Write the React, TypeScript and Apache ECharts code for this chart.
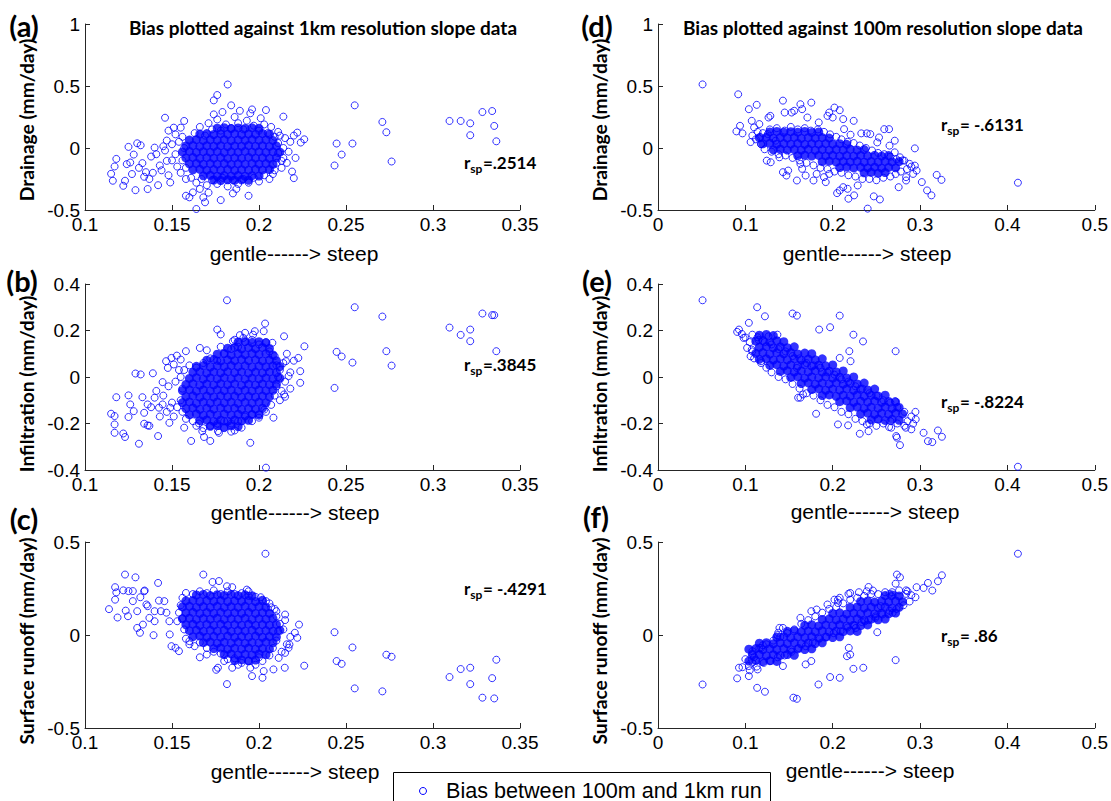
import React, { useEffect, useRef } from "react";
import * as echarts from "echarts";

// ---------- tick values ----------
const X_TICKS_1KM = [0.1, 0.15, 0.2, 0.25, 0.3, 0.35];
const X_TICKS_100M = [0, 0.1, 0.2, 0.3, 0.4, 0.5];
const Y_TICKS_DRAIN = [-0.5, 0, 0.5, 1];
const Y_TICKS_INFIL = [-0.4, -0.2, 0, 0.2, 0.4];
const Y_TICKS_RUNOFF = [-0.5, 0, 0.5];

// ---------- texts ----------
const PANEL_LETTERS = ["(a)", "(b)", "(c)", "(d)", "(e)", "(f)"];
const Y_LABELS = ["Drainage (mm/day)", "Infiltration (mm/day)", "Surface runoff (mm/day)"];
const X_LABEL = "gentle------> steep";
const TITLES = [
  "Bias plotted against 1km resolution slope data",
  "Bias plotted against 100m resolution slope data",
];
const RSP_VALUES = ["=.2514", "=.3845", "= -.4291", "= -.6131", "= -.8224", "= .86"];
const LEGEND_TEXT = "Bias between 100m and 1km run";

// ---------- data: (a) drainage vs 1km slope ----------
// densely overlapping core of the cloud
const A_DENSE = [
  [.176,.16],[.18,.164],[.184,.157],[.188,.162],[.192,.158],[.196,.163],[.2,.159],
  [.166,.112],[.17,.116],[.174,.109],[.178,.114],[.182,.11],[.186,.115],[.19,.108],[.194,.113],[.198,.11],[.202,.116],[.206,.111],
  [.16,.064],[.164,.068],[.168,.061],[.172,.066],[.176,.062],[.18,.067],[.184,.06],[.188,.065],[.192,.062],[.196,.068],[.2,.063],[.204,.066],[.208,.061],
  [.158,.016],[.162,.02],[.166,.013],[.17,.018],[.174,.014],[.178,.019],[.182,.012],[.186,.017],[.19,.014],[.194,.02],[.198,.015],[.202,.018],[.206,.013],[.21,.017],
  [.156,-.032],[.16,-.028],[.164,-.035],[.168,-.03],[.172,-.034],[.176,-.029],[.18,-.036],[.184,-.031],[.188,-.034],[.192,-.028],[.196,-.033],[.2,-.03],[.204,-.035],[.208,-.031],[.212,-.033],
  [.158,-.08],[.162,-.076],[.166,-.083],[.17,-.078],[.174,-.082],[.178,-.077],[.182,-.084],[.186,-.079],[.19,-.082],[.194,-.076],[.198,-.081],[.202,-.078],[.206,-.083],[.21,-.079],
  [.16,-.128],[.164,-.124],[.168,-.131],[.172,-.126],[.176,-.13],[.18,-.125],[.184,-.132],[.188,-.127],[.192,-.13],[.196,-.124],[.2,-.129],[.204,-.126],[.208,-.131],
  [.162,-.176],[.166,-.172],[.17,-.179],[.174,-.174],[.178,-.178],[.182,-.173],[.186,-.18],[.19,-.175],[.194,-.178],[.198,-.172],[.202,-.177],[.206,-.174],
  [.168,-.224],[.172,-.22],[.176,-.227],[.18,-.222],[.184,-.226],[.188,-.221],[.192,-.228],[.196,-.223],[.2,-.226],
  [.174,-.258],[.178,-.262],[.182,-.256],[.186,-.261],[.19,-.257],[.194,-.26]
];
const A_SPARSE = [
  [.115,-.208],[.116,-.264],[.117,-.149],[.118,-.088],[.122,-.305],[.123,-.264],[.125,.009],[.126,-.117],[.128,-.053],[.129,-.34],
  [.13,.038],[.132,.022],[.133,-.122],[.134,-.232],[.135,-.195],[.136,-.331],[.138,-.069],[.139,-.2],[.14,.003],[.142,-.3],
  [.143,-.141],[.145,.014],[.146,.244],[.147,-.104],[.148,.14],[.149,-.278],[.151,.164],[.152,.11],[.155,.164],[.157,.218],
  [.158,-.385],[.16,-.398],[.162,-.358],[.164,-.492],[.168,-.398],[.169,-.438],[.174,.271],[.174,.384],[.176,.427],[.178,-.42],
  [.182,.512],[.185,-.366],[.184,.344],[.194,-.385],[.196,.311],[.204,.306],[.214,.253],[.22,-.243],[.222,.124],[.224,.044],
  [.226,.07],[.213,-.104],[.124,-.13],[.127,-.21],[.131,-.16],[.137,-.25],[.141,-.05],[.144,-.18],[.146,-.02],[.148,-.22],
  [.15,-.1],[.15,.03],[.147,.06],
  [.152,-.05],[.153,-.15],[.154,.05],[.155,-.2],[.156,-.1],[.157,0],[.156,.09],[.158,-.25],[.158,-.16],
  [.163,.12],[.166,.17],[.169,.1],[.171,.2],[.173,.15],[.176,.23],[.178,.14],[.181,.19],[.184,.16],[.186,.25],
  [.188,.2],[.191,.15],[.193,.22],[.195,.28],[.197,.18],[.2,.14],[.201,.24],[.203,.19],[.205,.12],[.207,.17],
  [.209,.09],[.211,.13],[.179,.29],[.189,.3],
  [.161,-.24],[.164,-.28],[.167,-.25],[.17,-.3],[.173,-.26],[.176,-.29],[.179,-.24],[.182,-.31],[.185,-.26],[.188,-.29],
  [.191,-.25],[.194,-.28],[.197,-.24],[.2,-.27],[.203,-.22],[.206,-.25],[.171,-.36],[.187,-.33],[.166,-.33],
  [.209,-.18],[.21,-.12],[.211,-.04],[.211,.04],[.213,-.16],[.214,-.08],[.214,0],[.215,.08],[.216,-.12],[.217,-.03],
  [.218,.05],[.219,-.19],[.22,.1],[.221,-.08],[.208,-.21],[.212,.1],
  [.255,.344],[.2446,.036],[.2434,-.141],[.2475,-.053],[.2537,.036],[.2709,.21],[.2732,.127],[.2762,-.109],
  [.3095,.218],[.3159,.218],[.3214,.199],[.3214,.103],[.3284,.29],[.334,.298],[.3352,.178],[.3364,.054]
];

// ---------- data: (b) infiltration vs 1km slope ----------
const B_DENSE = [
  [.188,.15],[.192,.153],[.196,.148],[.2,.152],[.204,.147],
  [.182,.124],[.186,.127],[.19,.121],[.194,.126],[.198,.122],[.202,.127],[.206,.123],
  [.176,.098],[.18,.101],[.184,.095],[.188,.1],[.192,.096],[.196,.101],[.2,.097],[.204,.1],[.208,.095],
  [.17,.072],[.174,.075],[.178,.069],[.182,.074],[.186,.07],[.19,.075],[.194,.071],[.198,.074],[.202,.069],[.206,.073],[.21,.07],
  [.164,.046],[.168,.049],[.172,.043],[.176,.048],[.18,.044],[.184,.049],[.188,.045],[.192,.048],[.196,.043],[.2,.047],[.204,.044],[.208,.048],[.212,.045],
  [.162,.02],[.166,.023],[.17,.017],[.174,.022],[.178,.018],[.182,.023],[.186,.019],[.19,.022],[.194,.017],[.198,.021],[.202,.018],[.206,.022],[.21,.019],
  [.16,-.006],[.164,-.003],[.168,-.009],[.172,-.004],[.176,-.008],[.18,-.003],[.184,-.007],[.188,-.004],[.192,-.009],[.196,-.005],[.2,-.008],[.204,-.004],[.208,-.007],[.212,-.005],
  [.158,-.032],[.162,-.029],[.166,-.035],[.17,-.03],[.174,-.034],[.178,-.029],[.182,-.033],[.186,-.03],[.19,-.035],[.194,-.031],[.198,-.034],[.202,-.03],[.206,-.033],[.21,-.031],
  [.156,-.058],[.16,-.055],[.164,-.061],[.168,-.056],[.172,-.06],[.176,-.055],[.18,-.059],[.184,-.056],[.188,-.061],[.192,-.057],[.196,-.06],[.2,-.056],[.204,-.059],[.208,-.057],
  [.158,-.084],[.162,-.081],[.166,-.087],[.17,-.082],[.174,-.086],[.178,-.081],[.182,-.085],[.186,-.082],[.19,-.087],[.194,-.083],[.198,-.086],[.202,-.082],[.206,-.085],
  [.156,-.11],[.16,-.107],[.164,-.113],[.168,-.108],[.172,-.112],[.176,-.107],[.18,-.111],[.184,-.108],[.188,-.113],[.192,-.109],[.196,-.112],[.2,-.108],[.204,-.111],
  [.158,-.136],[.162,-.133],[.166,-.139],[.17,-.134],[.174,-.138],[.178,-.133],[.182,-.137],[.186,-.134],[.19,-.139],[.194,-.135],[.198,-.138],[.202,-.134],
  [.16,-.162],[.164,-.159],[.168,-.165],[.172,-.16],[.176,-.164],[.18,-.159],[.184,-.163],[.188,-.16],[.192,-.165],[.196,-.161],[.2,-.164],
  [.166,-.188],[.17,-.185],[.174,-.191],[.178,-.186],[.182,-.19],[.186,-.185],[.19,-.189],[.194,-.186],
  [.172,-.212],[.176,-.209],[.18,-.215],[.184,-.21],[.188,-.213]
];
const B_SPARSE = [
  [.115,-.158],[.118,-.087],[.117,-.168],[.117,-.204],[.117,-.24],[.122,-.243],[.123,-.258],[.125,-.079],[.126,-.118],[.125,-.172],
  [.128,-.147],[.129,.015],[.132,.011],[.131,-.287],[.133,-.087],[.134,-.201],[.134,-.154],[.136,-.208],[.136,-.118],[.139,.016],
  [.14,-.089],[.142,-.254],[.1425,-.132],[.1446,-.022],[.1446,-.118],[.1466,.068],[.1476,.039],[.1485,-.197],[.149,-.132],[.1497,.082],
  [.151,.054],[.1528,.092],[.155,.075],[.157,-.218],[.158,.111],[.161,-.275],[.166,.125],[.17,.115],
  [.141,-.06],[.143,-.17],[.145,-.08],[.147,-.15],[.148,-.04],[.15,-.11],[.151,-.17],[.152,-.02],[.153,-.13],[.154,.03],[.138,-.13],[.137,-.21],
  [.1816,.33],[.176,.204],[.178,.183],[.185,.154],[.189,.18],[.191,.168],[.192,.19],[.1966,.182],[.1976,.197],[.2035,.23],
  [.2027,.197],[.2077,.147],[.2144,.175],[.2261,.132],[.2226,.082],[.2237,.025],[.2237,-.025],[.2155,.068],[.217,.004],[.2144,-.075],
  [.215,-.085],[.2083,-.175],[.2031,-.14],[.195,-.283],[.204,-.39],[.19,-.218],[.184,-.235],[.1684,-.258],[.172,-.275],[.1674,-.233],
  [.1655,-.2],[.1764,-.233],[.18,-.19],[.196,-.161],[.2,-.175],
  [.156,-.15],[.155,-.1],[.156,-.05],[.155,0],[.157,.03],[.158,-.18],[.16,.05],[.162,-.19],
  [.164,.04],[.168,.06],[.172,.08],[.176,.07],[.18,.1],[.184,.12],[.188,.13],[.192,.15],[.196,.16],[.2,.14],
  [.204,.15],[.206,.11],[.209,.09],[.21,.05],[.186,.16],[.178,.13],
  [.164,-.21],[.168,-.22],[.172,-.21],[.176,-.2],[.18,-.22],[.184,-.2],[.188,-.19],[.192,-.17],[.196,-.19],[.2,-.16],
  [.204,-.15],[.207,-.12],[.209,-.08],[.21,-.04],[.211,0],[.212,.03],[.177,-.24],[.186,-.23],
  [.213,-.06],[.214,.06],[.215,-.02],[.216,.1],[.218,.02],[.218,-.05],[.22,.07],[.212,-.1],
  [.255,.3],[.2446,.108],[.2434,-.047],[.2475,.088],[.2537,.062],[.2709,.26],[.2732,.111],[.2762,.049],
  [.3095,.2125],[.3159,.181],[.3214,.204],[.3214,.154],[.3284,.273],[.334,.266],[.3352,.266],[.3364,.111]
];

// ---------- data: (c) surface runoff vs 1km slope ----------
const C_DENSE = [
  [.164,.215],[.168,.218],[.172,.212],[.176,.217],[.18,.213],[.184,.218],[.188,.212],[.192,.216],[.196,.211],
  [.158,.183],[.162,.186],[.166,.18],[.17,.185],[.174,.181],[.178,.186],[.182,.18],[.186,.184],[.19,.181],[.194,.186],[.198,.18],[.202,.184],
  [.156,.151],[.16,.154],[.164,.148],[.168,.153],[.172,.149],[.176,.154],[.18,.148],[.184,.152],[.188,.149],[.192,.154],[.196,.148],[.2,.152],[.204,.149],
  [.158,.119],[.162,.122],[.166,.116],[.17,.121],[.174,.117],[.178,.122],[.182,.116],[.186,.12],[.19,.117],[.194,.122],[.198,.116],[.202,.12],[.206,.117],
  [.156,.087],[.16,.09],[.164,.084],[.168,.089],[.172,.085],[.176,.09],[.18,.084],[.184,.088],[.188,.085],[.192,.09],[.196,.084],[.2,.088],[.204,.085],[.208,.089],
  [.158,.055],[.162,.058],[.166,.052],[.17,.057],[.174,.053],[.178,.058],[.182,.052],[.186,.056],[.19,.053],[.194,.058],[.198,.052],[.202,.056],[.206,.053],[.21,.057],
  [.16,.023],[.164,.026],[.168,.02],[.172,.025],[.176,.021],[.18,.026],[.184,.02],[.188,.024],[.192,.021],[.196,.026],[.2,.02],[.204,.024],[.208,.021],[.212,.025],
  [.162,-.009],[.166,-.006],[.17,-.012],[.174,-.007],[.178,-.011],[.182,-.006],[.186,-.012],[.19,-.008],[.194,-.011],[.198,-.006],[.202,-.012],[.206,-.008],[.21,-.011],
  [.168,-.041],[.172,-.038],[.176,-.044],[.18,-.039],[.184,-.043],[.188,-.038],[.192,-.044],[.196,-.04],[.2,-.043],[.204,-.038],[.208,-.042],
  [.174,-.073],[.178,-.07],[.182,-.076],[.186,-.071],[.19,-.075],[.194,-.07],[.198,-.076],[.202,-.072],[.206,-.075],
  [.18,-.105],[.184,-.102],[.188,-.108],[.192,-.103],[.196,-.107],[.2,-.102],[.204,-.106],
  [.186,-.137],[.19,-.134],[.194,-.139],[.198,-.135]
];
const C_SPARSE = [
  [.1138,.139],[.1173,.257],[.1173,.19],[.118,.229],[.1187,.094],[.123,.325],[.1234,.131],[.122,.24],[.125,.236],[.1275,.236],
  [.1247,.101],[.1275,.182],[.129,.31],[.13,.128],[.13,.038],[.1316,.012],[.1318,.203],[.1333,.056],[.134,.235],[.1343,.239],
  [.1353,.164],[.136,.155],[.137,.092],[.1394,-.001],[.14,.074],[.14,.128],[.142,.28],[.1425,.185],[.1436,.128],[.1456,.182],
  [.1468,.12],[.1485,.074],[.1487,.003],[.1497,-.06],[.152,-.069],[.154,-.087],[.153,.074],[.158,.226],[.16,-.033],[.166,-.12],
  [.168,.325],[.1733,.285],[.177,.29],[.1816,.262],[.1846,.257],[.193,.244],[.194,.235],[.201,.203],[.204,.182],[.207,.149],
  [.21,.128],[.215,.11],[.223,.056],[.2206,.012],[.222,-.015],[.2175,-.051],[.217,-.069],[.215,-.096],[.2113,-.123],[.2148,-.176],
  [.2083,-.185],[.2027,-.194],[.202,-.23],[.196,-.221],[.195,-.176],[.1846,-.176],[.1764,-.176],[.1754,-.187],[.17,-.105],
  [.1816,-.264],[.226,-.165],[.2037,.437],
  [.155,.16],[.156,.09],[.157,.03],[.156,.2],[.154,.12],[.158,-.02],[.16,-.05],[.163,-.06],
  [.162,.22],[.166,.235],[.17,.225],[.174,.24],[.178,.22],[.182,.235],[.186,.22],[.19,.225],[.194,.21],[.198,.205],
  [.202,.19],[.206,.17],[.209,.14],[.21,.1],
  [.166,-.04],[.17,-.07],[.174,-.09],[.178,-.1],[.182,-.13],[.186,-.125],[.19,-.15],[.194,-.14],[.198,-.16],[.202,-.14],
  [.206,-.11],[.208,-.07],[.21,-.03],[.211,.02],[.212,.06],[.2,-.12],[.188,-.16],[.18,-.14],
  [.213,-.09],[.214,.03],[.216,-.05],[.215,.08],[.218,-.01],
  [.255,-.287],[.2434,.015],[.2446,-.14],[.2475,-.155],[.2537,-.067],[.2709,-.303],[.2732,-.106],[.2762,-.117],
  [.3095,-.226],[.3159,-.183],[.3214,-.176],[.3214,-.264],[.3284,-.337],[.334,-.232],[.3352,-.341],[.3364,-.133]
];

// ---------- data: (d) drainage vs 100m slope ----------
const D_DENSE = [
  [.128,.13],[.136,.134],[.144,.127],[.152,.132],[.16,.128],[.168,.133],[.176,.126],[.184,.13],
  [.116,.082],[.124,.086],[.132,.079],[.14,.084],[.148,.08],[.156,.085],[.164,.078],[.172,.083],[.18,.079],[.188,.084],[.196,.08],
  [.12,.034],[.128,.038],[.136,.031],[.144,.036],[.152,.032],[.16,.037],[.168,.03],[.176,.035],[.184,.031],[.192,.036],[.2,.032],[.208,.035],[.216,.03],
  [.132,-.014],[.14,-.01],[.148,-.017],[.156,-.012],[.164,-.016],[.172,-.011],[.18,-.018],[.188,-.013],[.196,-.017],[.204,-.012],[.212,-.016],[.22,-.011],[.228,-.017],[.236,-.013],
  [.16,-.062],[.168,-.058],[.176,-.065],[.184,-.06],[.192,-.064],[.2,-.059],[.208,-.066],[.216,-.061],[.224,-.065],[.232,-.06],[.24,-.064],[.248,-.059],[.256,-.065],[.264,-.061],
  [.188,-.11],[.196,-.106],[.204,-.113],[.212,-.108],[.22,-.112],[.228,-.107],[.236,-.114],[.244,-.109],[.252,-.113],[.26,-.108],[.268,-.112],[.276,-.109],
  [.208,-.158],[.216,-.154],[.224,-.161],[.232,-.156],[.24,-.16],[.248,-.155],[.256,-.162],[.264,-.157],[.272,-.16],
  [.236,-.2],[.244,-.196],[.252,-.203],[.26,-.198]
];
const D_SPARSE = [
  [.051,.513],[.0918,.433],[.0898,.134],[.0939,.179],[.0967,.118],[.104,.313],[.106,.048],[.1073,.219],[.113,.348],[.11,.166],
  [.116,.193],[.118,.032],[.1245,-.102],[.129,-.115],[.1265,.246],[.1286,.259],[.1257,.112],[.1347,.059],[.143,.382],[.145,.286],
  [.139,-.075],[.143,-.195],[.149,-.182],[.147,-.222],[.159,-.262],[.153,.286],[.156,.3],[.163,.353],[.165,.313],[.171,.246],
  [.1755,.366],[.184,.206],[.194,.259],[.196,.286],[.202,.326],[.208,.305],[.2,.246],[.212,.233],[.224,.219],[.213,.152],
  [.2204,.107],[.2327,.118],[.239,.118],[.243,.112],[.251,.045],[.253,.085],[.259,.152],[.2645,.152],[.271,.059],[.271,-.035],
  [.294,-.003],[.265,.019],[.277,-.075],[.282,-.102],[.288,-.128],[.294,-.142],[.296,-.182],[.292,-.209],[.284,-.235],[.2755,-.316],
  [.284,-.262],[.302,-.275],[.308,-.342],[.313,-.382],[.319,-.217],[.3245,-.257],[.412,-.28],[.208,-.342],[.205,-.364],[.212,-.316],
  [.218,-.409],[.2245,-.382],[.24,-.489],[.247,-.39],[.254,-.415],[.2286,-.302],[.217,-.329],[.192,-.275],[.196,-.209],[.19,-.235],
  [.178,-.262],[.1816,-.209],[.169,-.222],[.165,-.168],[.163,-.128],
  [.12,.12],[.128,.15],[.136,.16],[.145,.14],[.152,.17],[.16,.15],[.168,.16],[.175,.14],[.183,.15],[.19,.13],
  [.197,.11],[.204,.09],[.21,.07],[.217,.05],[.224,.04],[.231,.02],[.238,0],[.245,-.02],[.252,-.04],[.259,-.05],
  [.266,-.07],[.273,-.09],[.28,-.1],
  [.118,.03],[.122,-.01],[.13,-.03],[.138,-.05],[.146,-.06],[.154,-.08],[.162,-.1],[.17,-.12],[.178,-.14],[.186,-.16],
  [.194,-.17],[.202,-.19],[.21,-.2],[.218,-.22],[.226,-.23],[.234,-.25],[.242,-.25],[.25,-.26],[.258,-.24],[.266,-.23],
  [.272,-.21],[.278,-.19],[.285,-.17],[.29,-.15],
  [.108,.1],[.112,.07],[.114,.13],[.117,.09]
];

// ---------- data: (e) infiltration vs 100m slope ----------
const E_DENSE = [
  [.116,.18],[.124,.183],[.132,.178],
  [.112,.154],[.12,.157],[.128,.151],[.136,.156],[.144,.152],
  [.116,.128],[.124,.131],[.132,.125],[.14,.13],[.148,.126],[.156,.13],
  [.112,.102],[.12,.105],[.128,.099],[.136,.104],[.144,.1],[.152,.105],[.16,.099],[.168,.103],[.176,.1],
  [.116,.076],[.124,.079],[.132,.073],[.14,.078],[.148,.074],[.156,.079],[.164,.073],[.172,.077],[.18,.074],[.188,.078],
  [.128,.05],[.136,.053],[.144,.047],[.152,.052],[.16,.048],[.168,.053],[.176,.047],[.184,.051],[.192,.048],[.2,.052],
  [.14,.024],[.148,.027],[.156,.021],[.164,.026],[.172,.022],[.18,.027],[.188,.021],[.196,.025],[.204,.022],[.212,.026],
  [.152,-.002],[.16,.001],[.168,-.005],[.176,0],[.184,-.004],[.192,.001],[.2,-.005],[.208,-.001],[.216,-.004],[.224,0],
  [.164,-.028],[.172,-.025],[.18,-.031],[.188,-.026],[.196,-.03],[.204,-.025],[.212,-.031],[.22,-.027],[.228,-.03],[.236,-.026],
  [.176,-.054],[.184,-.051],[.192,-.057],[.2,-.052],[.208,-.056],[.216,-.051],[.224,-.057],[.232,-.053],[.24,-.056],[.248,-.052],
  [.188,-.08],[.196,-.077],[.204,-.083],[.212,-.078],[.22,-.082],[.228,-.077],[.236,-.083],[.244,-.079],[.252,-.082],[.26,-.078],
  [.208,-.106],[.216,-.103],[.224,-.109],[.232,-.104],[.24,-.108],[.248,-.103],[.256,-.109],[.264,-.105],[.272,-.108],
  [.22,-.132],[.228,-.129],[.236,-.135],[.244,-.13],[.252,-.134],[.26,-.129],[.268,-.135],[.276,-.131],
  [.232,-.158],[.24,-.155],[.248,-.161],[.256,-.156],[.264,-.16],[.272,-.155],[.28,-.159],
  [.244,-.184],[.252,-.181],[.26,-.187],[.268,-.182],[.276,-.186]
];
const E_SPARSE = [
  [.051,.33],[.104,.233],[.0906,.194],[.0927,.204],[.096,.185],[.098,.168],[.102,.125],[.106,.089],[.1073,.118],[.108,.182],
  [.1135,.3],[.114,.171],[.1224,.261],[.1265,.175],[.118,.068],[.1367,.182],[.154,.273],[.159,.264],[.1845,.204],[.197,.214],
  [.208,.264],[.2237,.182],[.2347,.153],[.219,.111],[.2204,.068],[.208,.082],[.272,.111],[.2714,-.104],[.159,.039],[.1604,-.089],
  [.163,-.089],[.181,-.158],[.166,-.075],[.206,-.204],[.2176,-.208],[.231,-.244],[.241,-.233],[.239,-.204],[.2645,-.215],[.267,-.218],
  [.2727,-.254],[.2735,-.261],[.277,-.293],[.292,-.201],[.295,-.182],[.304,-.24],[.309,-.276],[.314,-.28],[.3204,-.23],[.325,-.257],
  [.412,-.386],[.2947,-.15],[.2857,-.19],[.2837,-.218],[.29,-.225],
  [.115,.16],[.122,.15],[.13,.14],[.138,.12],[.146,.11],[.154,.09],[.162,.08],[.17,.06],[.178,.05],[.186,.04],
  [.194,.02],[.202,.01],[.21,-.01],[.218,-.02],[.226,-.04],[.234,-.05],[.242,-.07],[.25,-.08],[.258,-.1],[.266,-.11],
  [.274,-.13],[.282,-.15],[.29,-.17],
  [.11,.08],[.118,.06],[.124,.04],[.13,.02],[.138,0],[.146,-.01],[.154,-.03],[.162,-.05],[.17,-.07],[.178,-.08],
  [.186,-.1],[.194,-.12],[.202,-.13],[.21,-.15],[.218,-.16],[.226,-.18],[.234,-.19],[.242,-.2],[.25,-.21],[.258,-.2],
  [.266,-.19],[.274,-.2],[.282,-.21],
  [.105,.15],[.108,.11],[.1,.17]
];

// ---------- data: (f) surface runoff vs 100m slope ----------
const F_DENSE = [
  [.104,-.14],[.112,-.137],[.12,-.143],[.128,-.138],[.136,-.142],
  [.108,-.108],[.116,-.105],[.124,-.111],[.132,-.106],[.14,-.11],[.148,-.105],[.156,-.109],
  [.104,-.076],[.112,-.073],[.12,-.079],[.128,-.074],[.136,-.078],[.144,-.073],[.152,-.079],[.16,-.075],[.168,-.078],[.176,-.074],
  [.116,-.044],[.124,-.041],[.132,-.047],[.14,-.042],[.148,-.046],[.156,-.041],[.164,-.047],[.172,-.043],[.18,-.046],[.188,-.042],
  [.136,-.012],[.144,-.009],[.152,-.015],[.16,-.01],[.168,-.014],[.176,-.009],[.184,-.015],[.192,-.011],[.2,-.014],[.208,-.01],
  [.148,.02],[.156,.023],[.164,.017],[.172,.022],[.18,.018],[.188,.023],[.196,.017],[.204,.021],[.212,.018],[.22,.022],[.228,.019],
  [.168,.052],[.176,.055],[.184,.049],[.192,.054],[.2,.05],[.208,.055],[.216,.049],[.224,.053],[.232,.05],[.24,.054],
  [.188,.084],[.196,.087],[.204,.081],[.212,.086],[.22,.082],[.228,.087],[.236,.081],[.244,.085],[.252,.082],[.26,.086],
  [.2,.116],[.208,.119],[.216,.113],[.224,.118],[.232,.114],[.24,.119],[.248,.113],[.256,.117],[.264,.114],[.272,.118],
  [.22,.148],[.228,.151],[.236,.145],[.244,.15],[.252,.146],[.26,.151],[.268,.145],[.276,.149],
  [.232,.18],[.24,.183],[.248,.177],[.256,.182],[.264,.178],[.272,.183],[.28,.179],
  [.26,.212],[.268,.215],[.276,.21]
];
const F_SPARSE = [
  [.051,-.266],[.0906,-.233],[.0927,-.176],[.0967,-.173],[.104,-.221],[.108,-.087],[.11,-.119],[.1135,-.284],[.1224,-.305],[.104,-.167],
  [.108,-.149],[.114,-.185],[.118,-.069],[.12,-.055],[.143,-.167],[.1376,.012],[.1367,-.001],[.143,.038],[.155,-.337],[.159,-.343],
  [.163,.092],[.169,-.158],[.1755,-.14],[.1837,-.266],[.197,-.226],[.208,-.23],[.2184,-.069],[.2163,-.114],[.22,-.105],[.2237,-.182],
  [.235,-.176],[.251,.015],[.272,-.135],[.22,.226],[.23,.23],[.239,.235],[.241,.258],[.246,.239],[.206,.19],[.206,.172],
  [.2735,.325],[.277,.31],[.272,.276],[.2857,.235],[.296,.257],[.304,.253],[.309,.28],[.314,.239],[.3204,.289],[.325,.321],
  [.412,.437],[.2947,.203],[.29,.214],[.284,.221],[.265,.221],[.267,.208],[.255,.155],[.2686,.119],[.249,.092],[.237,.074],
  [.2265,.038],[.139,.038],[.1755,.128],[.1816,.137],[.194,.164],[.202,.19],[.208,.2],[.218,.221],
  [.1,-.13],[.108,-.1],[.116,-.07],[.124,-.05],[.132,-.03],[.14,-.01],[.148,.01],[.156,.03],[.164,.06],[.172,.08],
  [.18,.1],[.188,.12],[.196,.14],[.204,.15],[.212,.17],[.22,.19],[.228,.2],[.236,.21],[.244,.22],[.252,.22],
  [.26,.23],[.268,.23],[.276,.24],[.284,.24],
  [.105,-.19],[.113,-.17],[.121,-.15],[.129,-.14],[.137,-.12],[.145,-.11],[.153,-.09],[.161,-.07],[.169,-.06],[.177,-.04],
  [.185,-.02],[.193,-.01],[.201,.01],[.209,.02],[.217,.04],[.225,.05],[.233,.07],[.241,.08],[.249,.1],[.257,.11],
  [.265,.13],[.273,.14],[.281,.16],[.288,.18]
];

const PANEL_DENSE = [A_DENSE, B_DENSE, C_DENSE, D_DENSE, E_DENSE, F_DENSE];
const PANEL_SPARSE = [A_SPARSE, B_SPARSE, C_SPARSE, D_SPARSE, E_SPARSE, F_SPARSE];

// ---------- layout ----------
const COL_LEFT = [85, 658];
const COL_WIDTH = [435, 437];
const ROW_TOP = [24, 284, 542];
const ROW_HEIGHT = 186;

const SANS = "'Liberation Sans', Arial, Helvetica, sans-serif";
const BOLD = "Lato, 'Noto Sans', sans-serif";
const BLUE = "#0000ff";
const AXIS_COLOR = "#262626";

function fmt(v: number) {
  return String(Math.round(v * 1000) / 1000);
}

function axisFromTicks(ticks: number[]) {
  const interval = Math.round((ticks[1] - ticks[0]) * 1000) / 1000;
  return { min: ticks[0], max: ticks[ticks.length - 1], interval };
}

export default function App() {
  const ref = useRef<HTMLDivElement>(null);

  useEffect(() => {
    if (!ref.current) return;
    const chart = echarts.init(ref.current, undefined, { renderer: "svg" });

    const canvas = document.createElement("canvas");
    const ctx = canvas.getContext("2d") as CanvasRenderingContext2D;
    const measure = (text: string, font: string) => {
      ctx.font = font;
      return ctx.measureText(text).width;
    };

    const grids: any[] = [];
    const xAxes: any[] = [];
    const yAxes: any[] = [];
    const series: any[] = [];
    const yTickSets = [Y_TICKS_DRAIN, Y_TICKS_INFIL, Y_TICKS_RUNOFF];
    const xTickSets = [X_TICKS_1KM, X_TICKS_100M];

    const axisCommon = {
      type: "value",
      axisLine: { show: true, onZero: false, lineStyle: { color: AXIS_COLOR, width: 1 } },
      axisTick: { show: true, inside: true, length: 5, lineStyle: { color: AXIS_COLOR } },
      splitLine: { show: false },
      axisLabel: { fontSize: 19, color: "#000", fontFamily: SANS, margin: 5, formatter: fmt },
    };

    for (let col = 0; col < 2; col++) {
      for (let row = 0; row < 3; row++) {
        const p = col * 3 + row;
        grids.push({
          left: COL_LEFT[col],
          top: ROW_TOP[row],
          width: COL_WIDTH[col],
          height: ROW_HEIGHT,
          containLabel: false,
        });
        xAxes.push({ gridIndex: p, ...axisCommon, ...axisFromTicks(xTickSets[col]) });
        yAxes.push({ gridIndex: p, ...axisCommon, ...axisFromTicks(yTickSets[row]) });
        // core of the cloud: circles overlap so heavily that they read as solid blue
        series.push({
          type: "scatter",
          name: LEGEND_TEXT,
          xAxisIndex: p,
          yAxisIndex: p,
          data: PANEL_DENSE[p],
          symbol: "circle",
          symbolSize: 9,
          itemStyle: { color: BLUE, borderWidth: 0 },
          silent: true,
          z: 2,
        });
        series.push({
          type: "scatter",
          name: LEGEND_TEXT,
          xAxisIndex: p,
          yAxisIndex: p,
          data: PANEL_SPARSE[p],
          symbol: "circle",
          symbolSize: 7,
          itemStyle: { color: "rgba(0,0,0,0)", borderColor: BLUE, borderWidth: 1 },
          silent: true,
          z: 3,
        });
      }
    }

    const txt = (x: number, y: number, text: string, font: string, align = "center", extra: any = {}) => ({
      type: "text",
      x,
      y,
      ...extra,
      style: {
        text,
        font,
        fill: "#000",
        textAlign: align,
        align,
        textVerticalAlign: "middle",
        verticalAlign: "middle",
      },
    });

    const elements: any[] = [];
    const letterPos = [
      [24, 25], [22, 280], [24, 518],
      [597, 25], [597, 280], [596, 516],
    ];
    PANEL_LETTERS.forEach((l, i) => {
      elements.push(txt(letterPos[i][0], letterPos[i][1], l, `bold 29px ${BOLD}`));
    });
    elements.push(txt(323, 27, TITLES[0], `bold 19px ${BOLD}`));
    elements.push(txt(883, 27, TITLES[1], `bold 19px ${BOLD}`));

    const yLabelY = [120, 384, 641];
    const yLabelX = [27, 600];
    for (let col = 0; col < 2; col++) {
      for (let row = 0; row < 3; row++) {
        elements.push(
          txt(yLabelX[col], yLabelY[row], Y_LABELS[row], `bold 18px ${BOLD}`, "center", {
            rotation: Math.PI / 2,
            scaleX: 1.07,
          })
        );
      }
    }

    const xLabelPos = [
      [294, 253], [295, 512], [295, 771],
      [867, 253], [875, 511], [870, 770],
    ];
    xLabelPos.forEach(([x, y]) => elements.push(txt(x, y, X_LABEL, `21px ${SANS}`)));

    const rspPos = [
      [464, 162], [464, 364], [464, 588],
      [941, 124], [941, 401], [941, 635],
    ];
    const mainFont = `bold 17px ${BOLD}`;
    const subFont = `bold 12px ${BOLD}`;
    const wr = measure("r", mainFont);
    const ws = measure("sp", subFont);
    RSP_VALUES.forEach((v, i) => {
      const [x, y] = rspPos[i];
      elements.push(txt(x, y, "r", mainFont, "left"));
      elements.push(txt(x + wr, y + 6, "sp", subFont, "left"));
      elements.push(txt(x + wr + ws + 0.5, y, v, mainFont, "left"));
    });

    elements.push({
      type: "rect",
      shape: { x: 393.5, y: 772.5, width: 377, height: 40 },
      style: { fill: "#fff", stroke: "#000", lineWidth: 1 },
      z: 10,
    });
    elements.push({
      type: "circle",
      shape: { cx: 423, cy: 791, r: 3.5 },
      style: { fill: "none", stroke: BLUE, lineWidth: 1 },
      z: 11,
    });
    elements.push({ ...txt(446, 790, LEGEND_TEXT, `21.6px ${SANS}`, "left"), z: 11 });

    chart.setOption({
      animation: false,
      backgroundColor: "#ffffff",
      textStyle: { fontFamily: SANS },
      grid: grids,
      xAxis: xAxes,
      yAxis: yAxes,
      series,
      graphic: { elements },
    });

    return () => chart.dispose();
  }, []);

  return (
    <div
      ref={ref}
      style={{ position: "fixed", left: 0, top: 0, width: 1111, height: 801, background: "#fff" }}
    />
  );
}
